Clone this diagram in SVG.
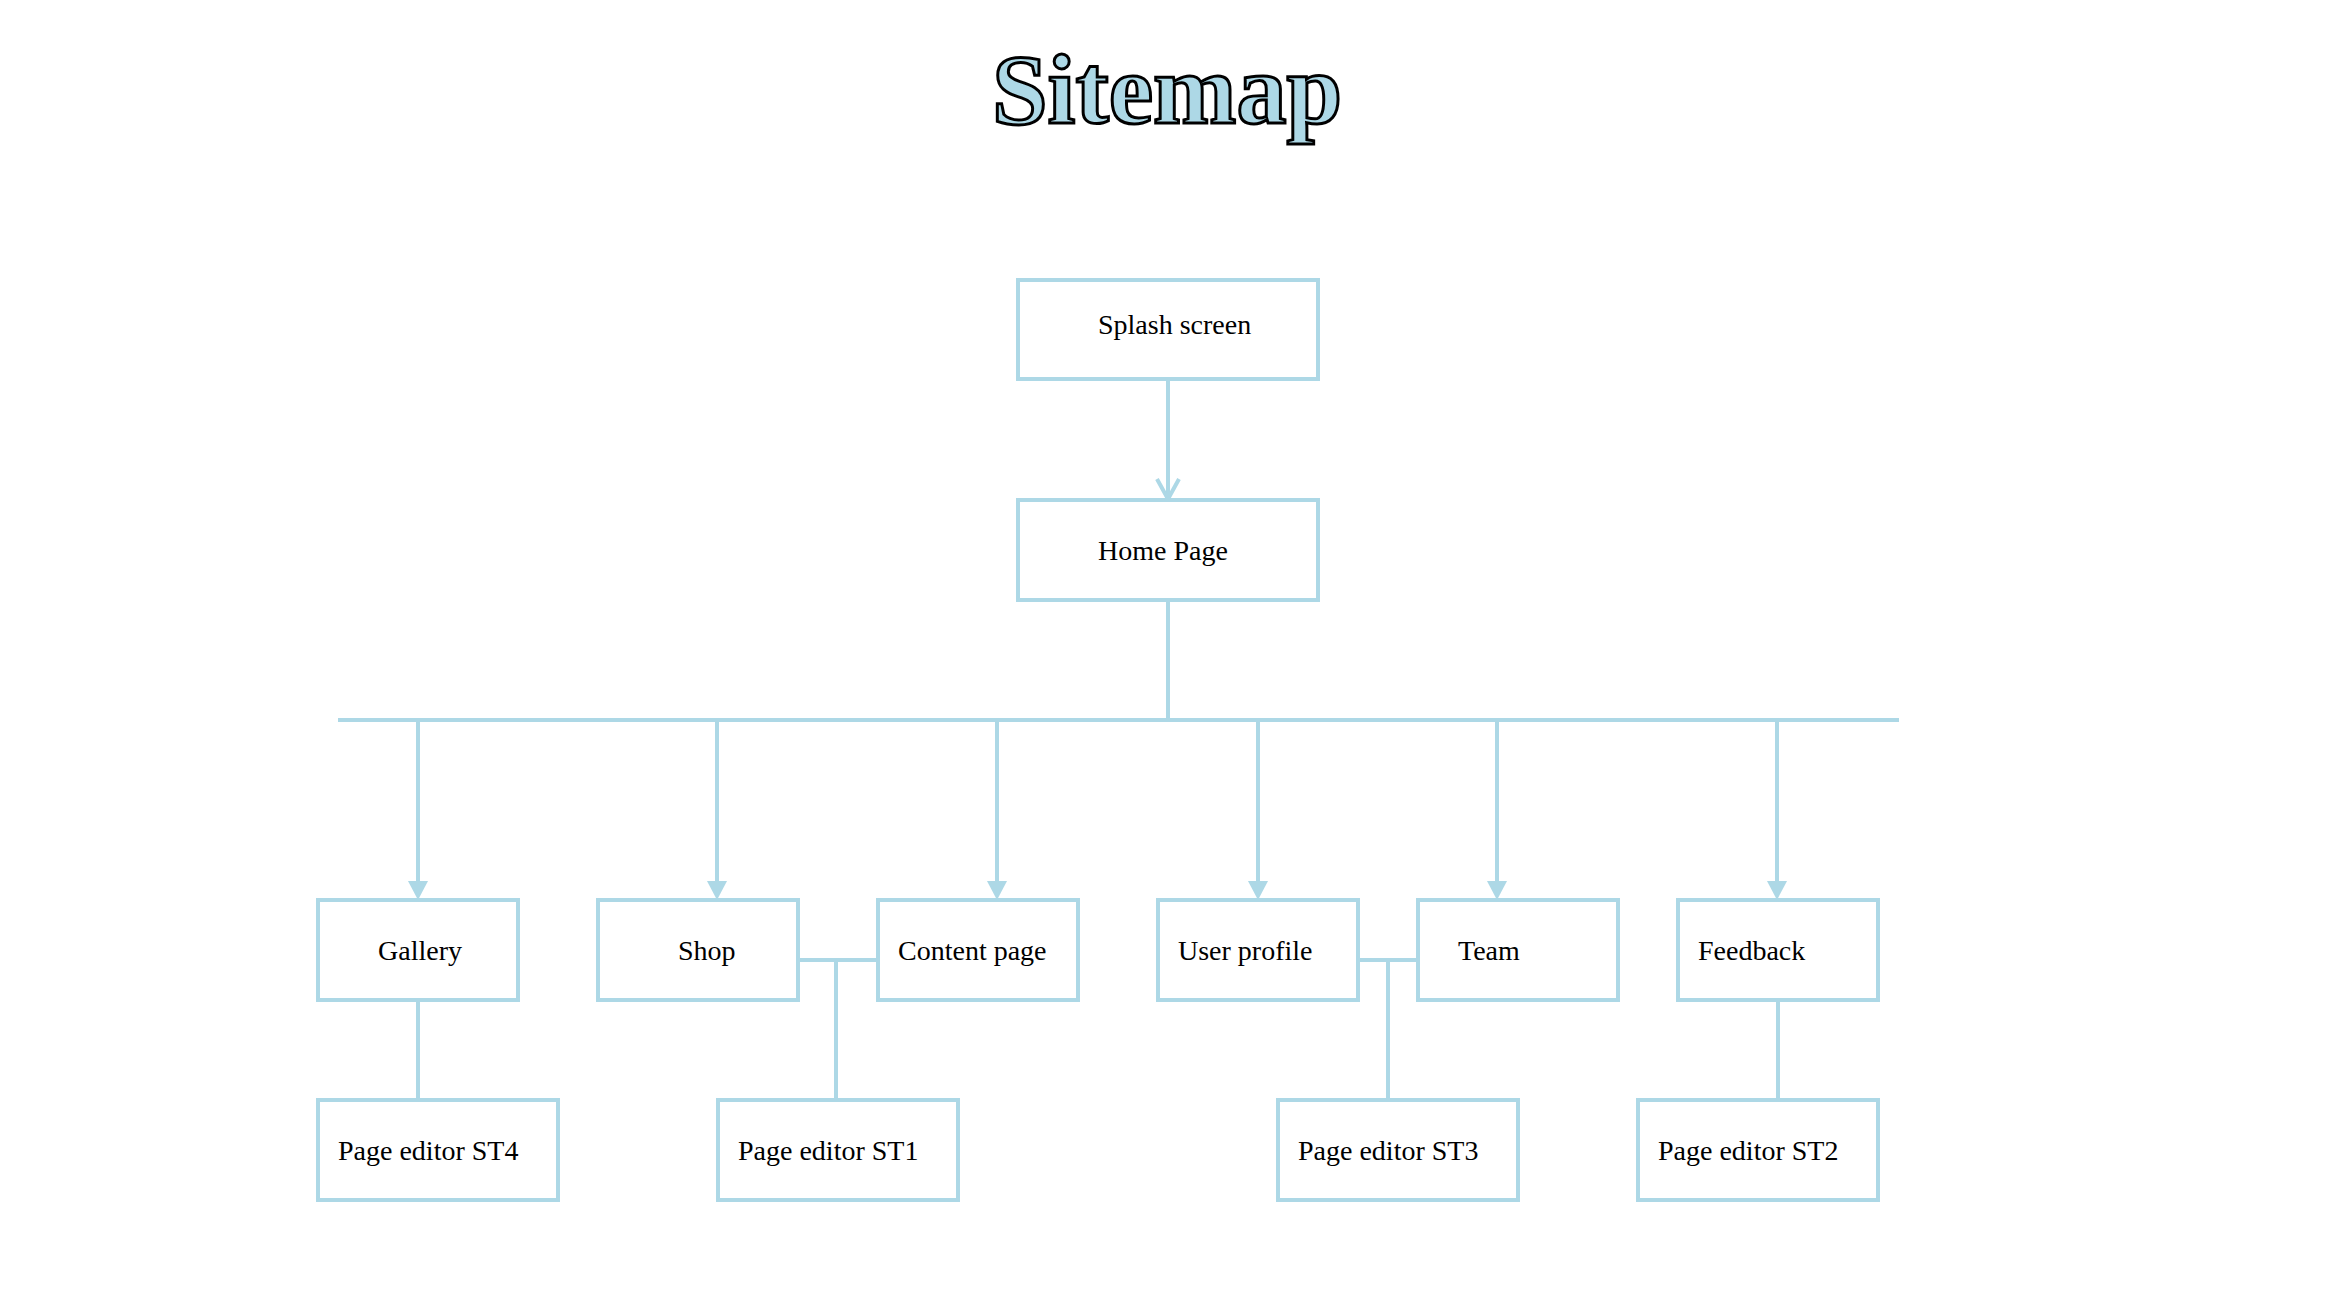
<svg xmlns="http://www.w3.org/2000/svg" width="2348" height="1292" viewBox="0 0 2348 1292">
<defs>
<style>
.box{fill:#ffffff;stroke:#add8e6;stroke-width:4}
.lbl{font-family:"Liberation Serif","Times New Roman",serif;font-size:28px;fill:#000000}
.ln{fill:none;stroke:#add8e6;stroke-width:4}
.title{font-family:"Liberation Serif","Times New Roman",serif;font-size:100px;font-weight:bold;fill:#add8e6;stroke:#000000;stroke-width:3}
</style>
<marker id="tri" markerWidth="20" markerHeight="20" refX="10" refY="19" orient="auto" markerUnits="userSpaceOnUse" viewBox="0 0 20 20">
<path d="M0,0 L20,0 L10,19 Z" fill="#add8e6" transform="rotate(0)"/>
</marker>
</defs>
<rect width="2348" height="1292" fill="#ffffff"/>
<text class="title" x="1167" y="123" text-anchor="middle">Sitemap</text>

<g id="connectors">
<line class="ln" x1="1168" y1="379" x2="1168" y2="498"/>
<polyline class="ln" points="1157,479 1168,499 1179,479"/>
<line class="ln" x1="1168" y1="600" x2="1168" y2="720"/>
<line class="ln" x1="338" y1="720" x2="1899" y2="720"/>
<line class="ln" x1="418" y1="720" x2="418" y2="884"/>
<line class="ln" x1="717" y1="720" x2="717" y2="884"/>
<line class="ln" x1="997" y1="720" x2="997" y2="884"/>
<line class="ln" x1="1258" y1="720" x2="1258" y2="884"/>
<line class="ln" x1="1497" y1="720" x2="1497" y2="884"/>
<line class="ln" x1="1777" y1="720" x2="1777" y2="884"/>
<path d="M408,881 L428,881 L418,900 Z" fill="#add8e6"/>
<path d="M707,881 L727,881 L717,900 Z" fill="#add8e6"/>
<path d="M987,881 L1007,881 L997,900 Z" fill="#add8e6"/>
<path d="M1248,881 L1268,881 L1258,900 Z" fill="#add8e6"/>
<path d="M1487,881 L1507,881 L1497,900 Z" fill="#add8e6"/>
<path d="M1767,881 L1787,881 L1777,900 Z" fill="#add8e6"/>
<line class="ln" x1="418" y1="1000" x2="418" y2="1100"/>
<line class="ln" x1="798" y1="960" x2="878" y2="960"/>
<line class="ln" x1="836" y1="960" x2="836" y2="1100"/>
<line class="ln" x1="1358" y1="960" x2="1418" y2="960"/>
<line class="ln" x1="1388" y1="960" x2="1388" y2="1100"/>
<line class="ln" x1="1778" y1="1000" x2="1778" y2="1100"/>
</g>

<g id="splash"><rect class="box" x="1018" y="280" width="300" height="99"/><text class="lbl" x="1098" y="334">Splash screen</text></g>
<g id="home"><rect class="box" x="1018" y="500" width="300" height="100"/><text class="lbl" x="1098" y="560">Home Page</text></g>

<g id="gallery"><rect class="box" x="318" y="900" width="200" height="100"/><text class="lbl" x="378" y="960">Gallery</text></g>
<g id="shop"><rect class="box" x="598" y="900" width="200" height="100"/><text class="lbl" x="678" y="960">Shop</text></g>
<g id="content"><rect class="box" x="878" y="900" width="200" height="100"/><text class="lbl" x="898" y="960">Content page</text></g>
<g id="userprofile"><rect class="box" x="1158" y="900" width="200" height="100"/><text class="lbl" x="1178" y="960">User profile</text></g>
<g id="team"><rect class="box" x="1418" y="900" width="200" height="100"/><text class="lbl" x="1458" y="960">Team</text></g>
<g id="feedback"><rect class="box" x="1678" y="900" width="200" height="100"/><text class="lbl" x="1698" y="960">Feedback</text></g>

<g id="st4"><rect class="box" x="318" y="1100" width="240" height="100"/><text class="lbl" x="338" y="1160">Page editor ST4</text></g>
<g id="st1"><rect class="box" x="718" y="1100" width="240" height="100"/><text class="lbl" x="738" y="1160">Page editor ST1</text></g>
<g id="st3"><rect class="box" x="1278" y="1100" width="240" height="100"/><text class="lbl" x="1298" y="1160">Page editor ST3</text></g>
<g id="st2"><rect class="box" x="1638" y="1100" width="240" height="100"/><text class="lbl" x="1658" y="1160">Page editor ST2</text></g>
</svg>
